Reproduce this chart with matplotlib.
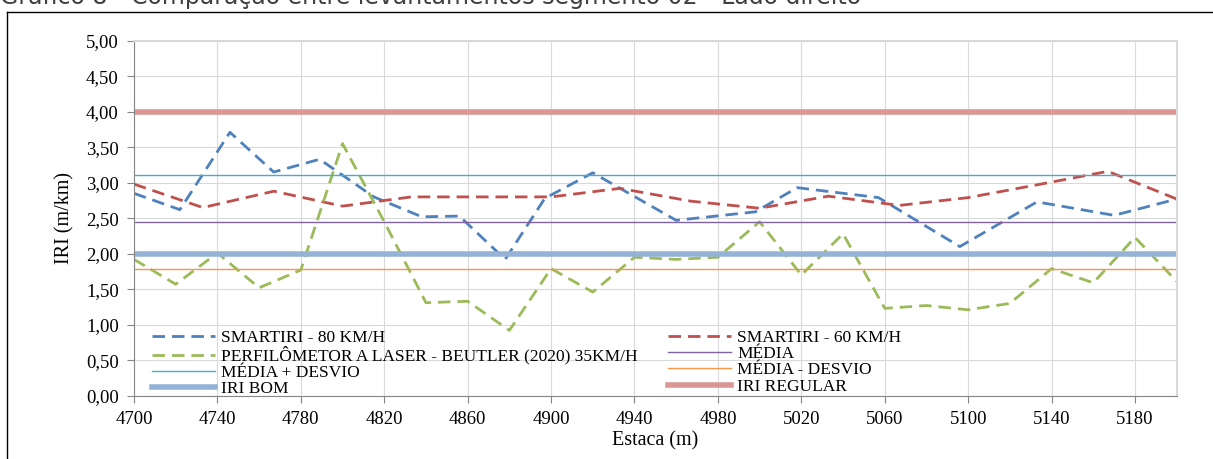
import numpy as np
import matplotlib
matplotlib.use("Agg")
import matplotlib.pyplot as plt
from matplotlib.lines import Line2D
from matplotlib.ticker import FuncFormatter

# SmartIRI 80 km/h (estaca, IRI)
x_80 = [4700, 4722, 4746, 4767, 4789, 4815, 4838, 4856, 4878, 4897, 4920,
        4960, 4998, 5018, 5057, 5096, 5133, 5170, 5200]
iri_80 = [2.85, 2.62, 3.71, 3.15, 3.33, 2.80, 2.52, 2.53, 1.92, 2.78, 3.14,
          2.47, 2.59, 2.93, 2.79, 2.10, 2.73, 2.54, 2.77]

# SmartIRI 60 km/h
x_60 = [4700, 4733, 4767, 4800, 4833, 4867, 4900, 4933, 4967, 5000, 5033,
        5067, 5100, 5133, 5167, 5200]
iri_60 = [2.98, 2.65, 2.88, 2.67, 2.80, 2.80, 2.80, 2.92, 2.74, 2.64, 2.81,
          2.68, 2.79, 2.97, 3.16, 2.77]

# Perfilometro a laser - Beutler (2020)
x_laser = [4700, 4720, 4740, 4760, 4780, 4800, 4820, 4840, 4860, 4880, 4900,
           4920, 4940, 4960, 4980, 5000, 5020, 5040, 5060, 5080, 5100, 5120,
           5140, 5160, 5180, 5200]
iri_laser = [1.92, 1.57, 2.01, 1.52, 1.77, 3.55, 2.45, 1.31, 1.33, 0.92, 1.79,
             1.46, 1.95, 1.92, 1.95, 2.45, 1.70, 2.28, 1.23, 1.27, 1.21, 1.30,
             1.79, 1.59, 2.23, 1.61]

media = 2.44
media_mais = 3.11
media_menos = 1.78
iri_bom = 2.00
iri_regular = 4.00

labels = ["SMARTIRI - 80 KM/H", "SMARTIRI - 60 KM/H",
          "PERFILÔMETOR A LASER - BEUTLER (2020) 35KM/H", "MÉDIA",
          "MÉDIA + DESVIO", "MÉDIA - DESVIO", "IRI BOM", "IRI REGULAR"]

W, H = 1213, 459
fig = plt.figure(figsize=(W / 100, H / 100), dpi=100)
serif = "Liberation Serif"

# moldura e titulo cortado (como na figura original)
fig.add_artist(Line2D([7 / W, 7 / W], [0, 1 - 12 / H], color="black", lw=1))
fig.add_artist(Line2D([7 / W, 1], [1 - 12 / H, 1 - 12 / H], color="black", lw=1))
fig.text(0 / W, 1 - 4 / H, "Gráfico 8 - Comparação entre levantamentos segmento 02 - Lado direito",
         fontsize=17, color="#404040", va="baseline", ha="left", family="DejaVu Sans")

ax = fig.add_axes([134 / W, 1 - 395.7 / H, (1176.7 - 134) / W, (395.7 - 40.7) / H])

xs = [4700, 5200]
h80, = ax.plot(x_80, iri_80, color="#4F81BD", lw=2, dashes=(4.5, 2.5))
h60, = ax.plot(x_60, iri_60, color="#C0504D", lw=2, dashes=(4.5, 2.5))
hl, = ax.plot(x_laser, iri_laser, color="#9BBB59", lw=2, dashes=(4.5, 2.5))
hm, = ax.plot(xs, [media] * 2, color="#8064A2", lw=1)
hmp, = ax.plot(xs, [media_mais] * 2, color="#4BACC6", lw=1)
hmm, = ax.plot(xs, [media_menos] * 2, color="#F79646", lw=1)
hb, = ax.plot(xs, [iri_bom] * 2, color="#95B3D7", lw=4)
hr, = ax.plot(xs, [iri_regular] * 2, color="#D99694", lw=4)

ax.set_xlim(4700, 5200)
ax.set_ylim(0, 5)
ax.set_xticks(np.arange(4700, 5200, 40))
ax.set_yticks(np.arange(0, 5.01, 0.5))
ax.yaxis.set_major_formatter(FuncFormatter(lambda v, p: f"{v:.2f}".replace(".", ",")))
ax.grid(True, color="#D9D9D9", lw=0.8)
ax.set_axisbelow(True)
for s in ["left", "bottom"]:
    ax.spines[s].set_color("#868686")
for s in ["top", "right"]:
    ax.spines[s].set_color("#D9D9D9")
    ax.spines[s].set_linewidth(1.5)
ax.tick_params(colors="#868686", length=5, labelcolor="black", labelsize=13.5, pad=6)
for t in ax.get_xticklabels() + ax.get_yticklabels():
    t.set_family(serif)
ax.set_xlabel("Estaca (m)", family=serif, fontsize=14.5, labelpad=2)
ax.set_ylabel("IRI (m/km)", family=serif, fontsize=14.5, labelpad=8)

leg_kw = dict(loc="upper left", frameon=False, prop={"family": serif, "size": 12.5},
              handlelength=3.6, handletextpad=0.4, labelspacing=0.0, borderpad=0,
              borderaxespad=0)
leg1 = fig.legend([h80, hl, hmp, hb], [labels[0], labels[2], labels[4], labels[6]],
                  bbox_to_anchor=(152 / W, 1 - 330 / H), **leg_kw)
leg2 = fig.legend([h60, hm, hmm, hr], [labels[1], labels[3], labels[5], labels[7]],
                  bbox_to_anchor=(668 / W, 1 - 330 / H), **leg_kw)

fig.savefig("out.png", dpi=100)
